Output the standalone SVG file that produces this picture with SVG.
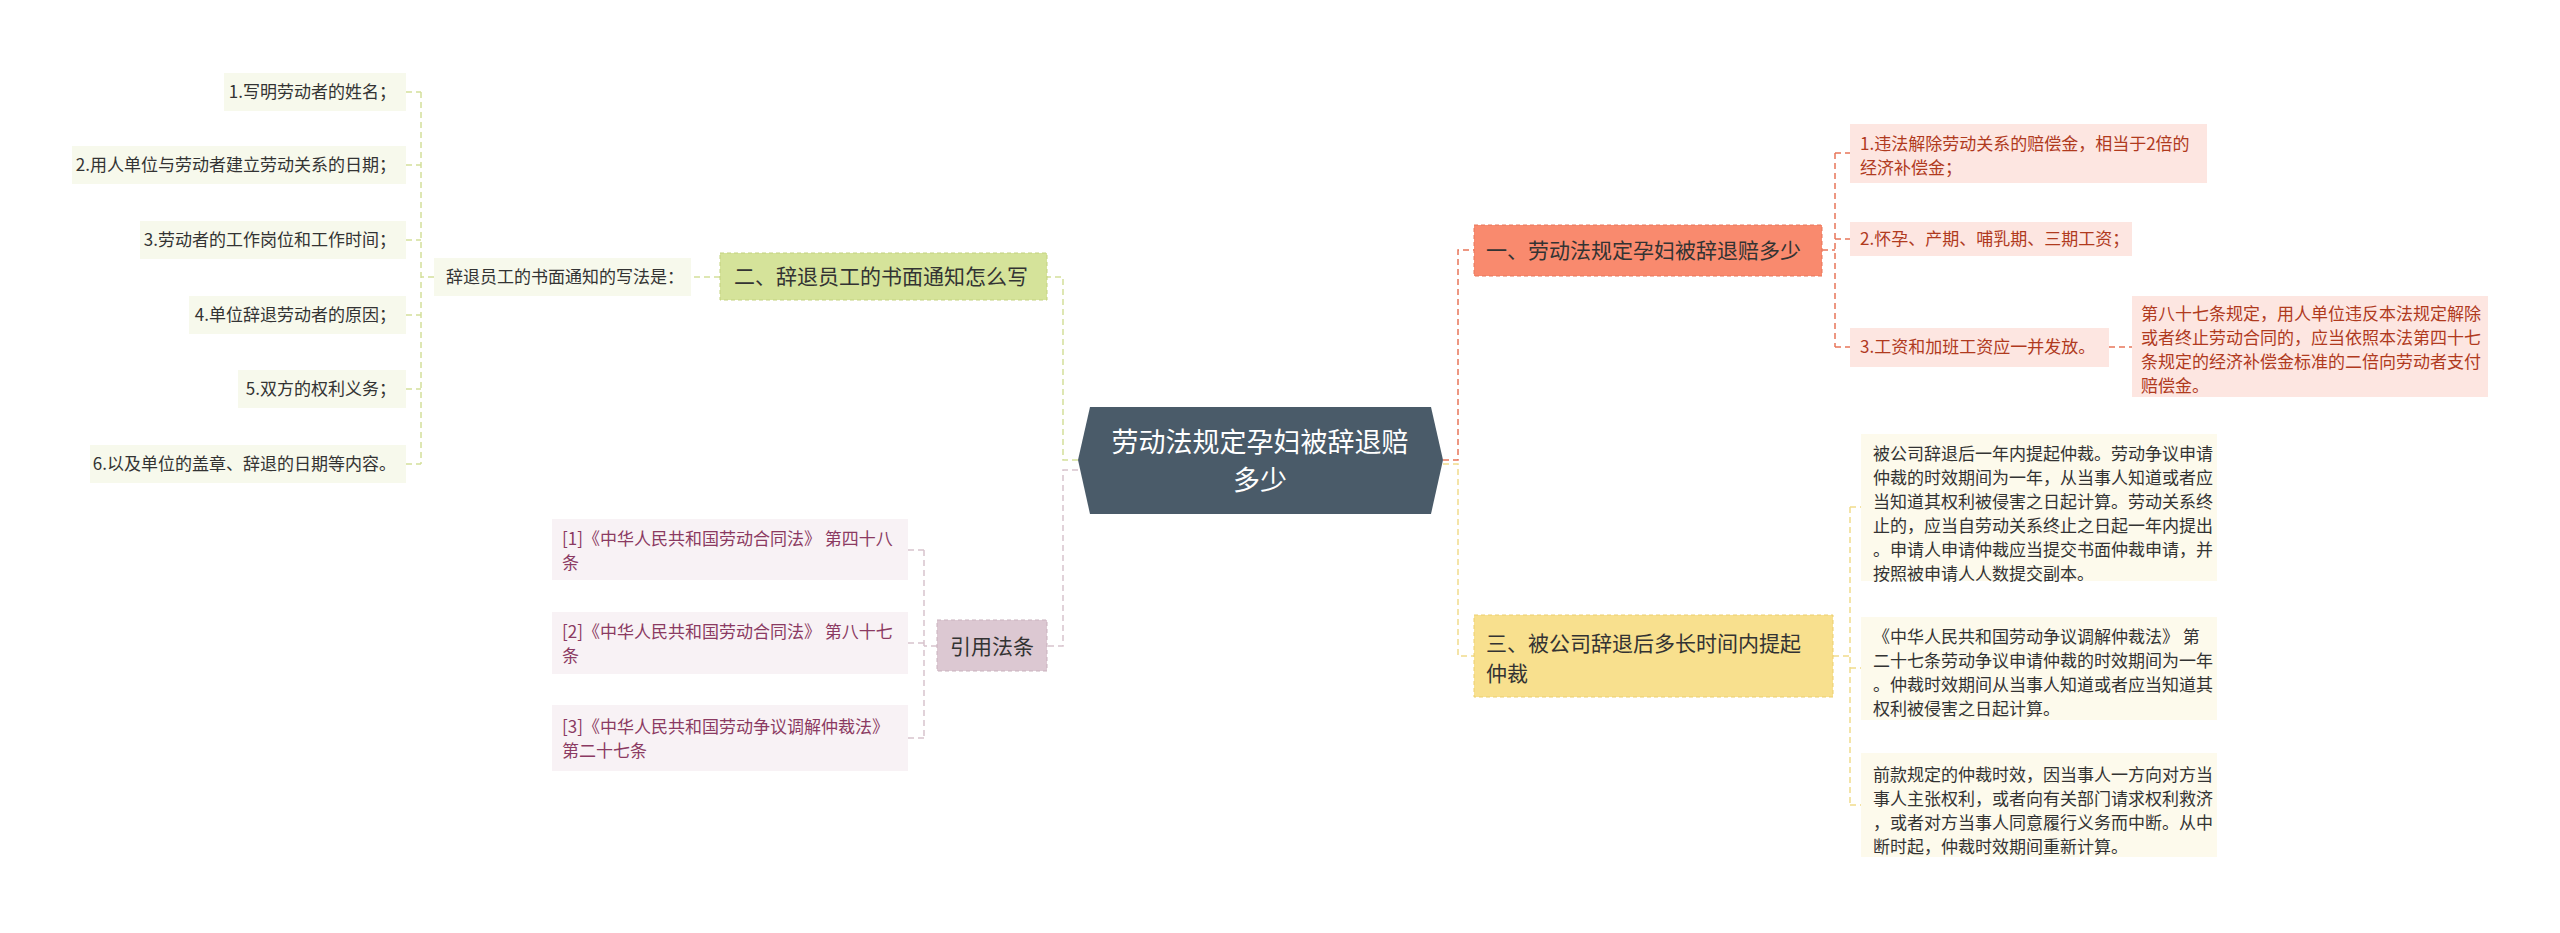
<svg xmlns="http://www.w3.org/2000/svg" width="2560" height="933" viewBox="0 0 2560 933">
<style>
text{font-family:"Noto Sans CJK SC","Liberation Sans",sans-serif;}
.lf{font-size:17px;fill:#333}
.g{fill:#f7f9ec}
.p{fill:#f8f2f5}
.pt{font-size:17px;fill:#8b3a62}
.r{fill:#fde6e1}
.rt{font-size:17px;fill:#b03a1e}
.y{fill:#fdfaec}
.c{fill:none;stroke-width:1.5;stroke-dasharray:6 4}
</style>
<rect width="2560" height="933" fill="#fff"/>
<g id="connectors">
<path class="c" stroke="#d4e09a" d="M1078 460 H1063 V277 H1047 M720 277 H691 M434 277 H421 M421 92 V464 M406 92 H421 M406 165 H421 M406 240 H421 M406 315 H421 M406 389 H421 M406 464 H421"/>
<path class="c" stroke="#d8c3cd" d="M1078 470 H1063 V646 H1047 M937 646 H924 M924 550 V738 M908 550 H924 M908 643 H924 M908 738 H924"/>
<path class="c" stroke="#e8765a" d="M1443 460 H1458 V250 H1474 M1822 250 H1835 M1835 153 V347 M1835 153 H1850 M1835 239 H1850 M1835 347 H1850 M2109 347 H2132"/>
<path class="c" stroke="#f1dc8c" d="M1443 464 H1458 V656 H1474 M1833 656 H1850 M1850 507 V805 M1850 507 H1861 M1850 668 H1861 M1850 805 H1861"/>
</g>
<g id="root">
<polygon points="1090,407 1431,407 1443,460 1431,514 1090,514 1078,460" fill="#4a5b69"/>
<text x="1260" y="452" font-size="27" fill="#fff" text-anchor="middle">劳动法规定孕妇被辞退赔</text>
<text x="1260" y="490" font-size="27" fill="#fff" text-anchor="middle">多少</text>
</g>
<g id="b2">
<rect x="720" y="253" width="327" height="47" fill="#d5e39a" stroke="#c3d27e" stroke-dasharray="4 3"/>
<text x="734" y="284" font-size="21" fill="#333">二、辞退员工的书面通知怎么写</text>
</g>
<g id="b2sub"><rect class="g" x="434" y="258" width="257" height="38"/><text class="lf" x="446" y="283">辞退员工的书面通知的写法是：</text></g>
<g id="l1"><rect class="g" x="224" y="73" width="182" height="38"/><text class="lf" x="396" y="98" text-anchor="end">1.写明劳动者的姓名；</text></g>
<g id="l2"><rect class="g" x="72" y="146" width="334" height="38"/><text class="lf" x="396" y="171" text-anchor="end">2.用人单位与劳动者建立劳动关系的日期；</text></g>
<g id="l3"><rect class="g" x="140" y="221" width="266" height="38"/><text class="lf" x="396" y="246" text-anchor="end">3.劳动者的工作岗位和工作时间；</text></g>
<g id="l4"><rect class="g" x="189" y="296" width="217" height="38"/><text class="lf" x="396" y="321" text-anchor="end">4.单位辞退劳动者的原因；</text></g>
<g id="l5"><rect class="g" x="238" y="370" width="168" height="38"/><text class="lf" x="396" y="395" text-anchor="end">5.双方的权利义务；</text></g>
<g id="l6"><rect class="g" x="90" y="445" width="316" height="38"/><text class="lf" x="396" y="470" text-anchor="end">6.以及单位的盖章、辞退的日期等内容。</text></g>
<g id="cite">
<rect x="937" y="620" width="110" height="51" fill="#dcc8d2" stroke="#c9b1bd" stroke-dasharray="4 3"/>
<text x="992" y="654" font-size="21" fill="#333" text-anchor="middle">引用法条</text>
</g>
<g id="c1"><rect class="p" x="552" y="519" width="356" height="61"/><text class="pt" x="562" y="545">[1]《中华人民共和国劳动合同法》 第四十八</text><text class="pt" x="562" y="569">条</text></g>
<g id="c2"><rect class="p" x="552" y="612" width="356" height="62"/><text class="pt" x="562" y="638">[2]《中华人民共和国劳动合同法》 第八十七</text><text class="pt" x="562" y="662">条</text></g>
<g id="c3"><rect class="p" x="552" y="705" width="356" height="66"/><text class="pt" x="562" y="733">[3]《中华人民共和国劳动争议调解仲裁法》</text><text class="pt" x="562" y="757">第二十七条</text></g>
<g id="b1">
<rect x="1474" y="225" width="348" height="51" fill="#f98a6e" stroke="#e8765a" stroke-dasharray="4 3"/>
<text x="1486" y="258" font-size="21" fill="#333">一、劳动法规定孕妇被辞退赔多少</text>
</g>
<g id="r1"><rect class="r" x="1850" y="124" width="357" height="59"/><text class="rt" x="1860" y="150">1.违法解除劳动关系的赔偿金，相当于2倍的</text><text class="rt" x="1860" y="174">经济补偿金；</text></g>
<g id="r2"><rect class="r" x="1850" y="222" width="282" height="34"/><text class="rt" x="1860" y="245">2.怀孕、产期、哺乳期、三期工资；</text></g>
<g id="r3"><rect class="r" x="1850" y="328" width="259" height="39"/><text class="rt" x="1860" y="353">3.工资和加班工资应一并发放。</text></g>
<g id="r3d"><rect class="r" x="2132" y="296" width="356" height="101"/>
<text class="rt" x="2141" y="320">第八十七条规定，用人单位违反本法规定解除</text>
<text class="rt" x="2141" y="344">或者终止劳动合同的，应当依照本法第四十七</text>
<text class="rt" x="2141" y="368">条规定的经济补偿金标准的二倍向劳动者支付</text>
<text class="rt" x="2141" y="392">赔偿金。</text></g>
<g id="b3">
<rect x="1474" y="615" width="359" height="82" fill="#f8e08e" stroke="#eccf6e" stroke-dasharray="4 3"/>
<text x="1486" y="651" font-size="21" fill="#333">三、被公司辞退后多长时间内提起</text>
<text x="1486" y="681" font-size="21" fill="#333">仲裁</text>
</g>
<g id="y1"><rect class="y" x="1861" y="434" width="356" height="147"/>
<text class="lf" x="1873" y="460">被公司辞退后一年内提起仲裁。劳动争议申请</text>
<text class="lf" x="1873" y="484">仲裁的时效期间为一年，从当事人知道或者应</text>
<text class="lf" x="1873" y="508">当知道其权利被侵害之日起计算。劳动关系终</text>
<text class="lf" x="1873" y="532">止的，应当自劳动关系终止之日起一年内提出</text>
<text class="lf" x="1873" y="556">。申请人申请仲裁应当提交书面仲裁申请，并</text>
<text class="lf" x="1873" y="580">按照被申请人人数提交副本。</text></g>
<g id="y2"><rect class="y" x="1861" y="617" width="356" height="103"/>
<text class="lf" x="1873" y="643">《中华人民共和国劳动争议调解仲裁法》 第</text>
<text class="lf" x="1873" y="667">二十七条劳动争议申请仲裁的时效期间为一年</text>
<text class="lf" x="1873" y="691">。仲裁时效期间从当事人知道或者应当知道其</text>
<text class="lf" x="1873" y="715">权利被侵害之日起计算。</text></g>
<g id="y3"><rect class="y" x="1861" y="753" width="356" height="104"/>
<text class="lf" x="1873" y="781">前款规定的仲裁时效，因当事人一方向对方当</text>
<text class="lf" x="1873" y="805">事人主张权利，或者向有关部门请求权利救济</text>
<text class="lf" x="1873" y="829">，或者对方当事人同意履行义务而中断。从中</text>
<text class="lf" x="1873" y="853">断时起，仲裁时效期间重新计算。</text></g>
</svg>
